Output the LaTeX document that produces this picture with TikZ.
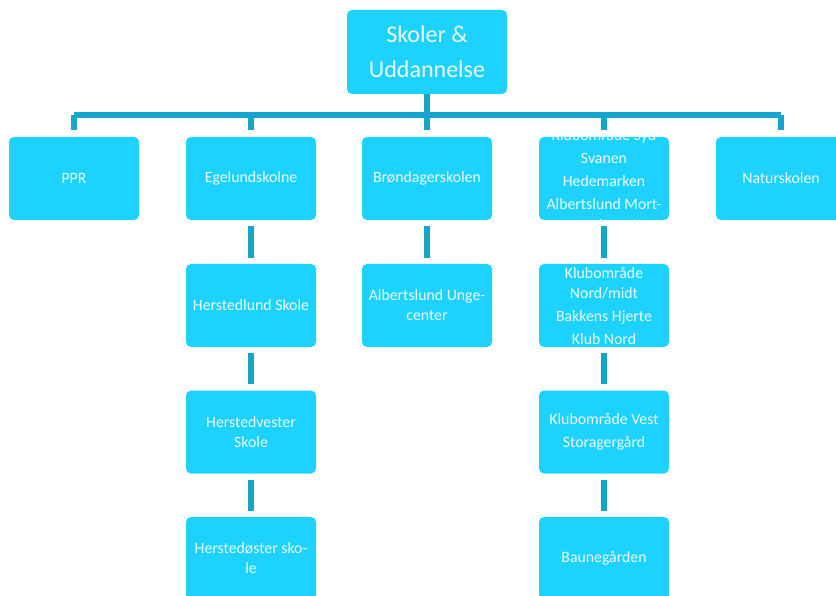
\documentclass[tikz,border=0pt]{standalone}
\usepackage{fontspec}
\setmainfont{Carlito}
\definecolor{boxfill}{RGB}{30,210,255}
\definecolor{linecol}{RGB}{22,165,205}
\definecolor{txtcol}{RGB}{236,250,255}
\tikzset{
  unit/.style={rectangle,rounded corners=5pt,fill=boxfill,minimum width=130pt,
    minimum height=83pt,text=txtcol,font=\fontsize{15.8}{20}\selectfont,align=center,inner sep=0pt},
  head/.style={unit,minimum width=160pt,minimum height=84pt,font=\fontsize{24}{35}\selectfont},
  unittext/.style={text=txtcol,font=\fontsize{15.8}{20}\selectfont,align=center,inner sep=0pt},
  link/.style={draw=linecol,line width=6pt},
}
\begin{document}
\begin{tikzpicture}[x=1pt,y=-1pt]
\clip (0,0) rectangle (836,596);

% top of the chart
\node[head] (skoler) at (427,52) {Skoler \&\\Uddannelse};

% first level
\node[unit] (ppr) at (74,178.5) {PPR};
\node[unit] (egelund) at (251,178.5) {Egelundskolne};
\node[unit] (broendager) at (427,178.5) {Brøndagerskolen};
\node[unit] (klubsyd) at (604,178.5) {};
\node[unit] (natur) at (781,178.5) {Naturskolen};

% second level
\node[unit] (herstedlund) at (251,305.5) {Herstedlund Skole};
\node[unit] (unge) at (427,305.5) {Albertslund Unge-\\center};
\node[unit] (klubnord) at (604,305.5) {Klubområde\\Nord/midt\\[3pt]Bakkens Hjerte\\[3pt]Klub Nord};

% third level
\node[unit] (herstedvester) at (251,432) {Herstedvester\\Skole};
\node[unit] (klubvest) at (604,432) {Klubområde Vest\\[3pt]Storagergård};

% fourth level
\node[unit] (herstedoester) at (251,558.5) {Herstedøster sko-\\le};
\node[unit] (baune) at (604,558.5) {Baunegården};

% text that runs over its box
\begin{scope}
\clip ([yshift=4pt]klubsyd.north west) rectangle ([yshift=-3pt]klubsyd.south east);
\node[unittext] at (604,180.5) {Klubområde Syd\\[3pt]Svanen\\[3pt]Hedemarken\\[3pt]Albertslund Mort-\\ersportscenter};
\end{scope}

% connectors
\coordinate (bar) at (427,115);
\draw[link] (skoler.south) -- (bar);
\draw[link] (ppr |- bar) -- (natur |- bar);
\foreach \n in {ppr,egelund,broendager,klubsyd,natur}
  \draw[link,shorten >=7pt] (\n |- bar) -- (\n.north);
\draw[link,shorten <=6pt,shorten >=6pt] (egelund) -- (herstedlund);
\draw[link,shorten <=6pt,shorten >=6pt] (herstedlund) -- (herstedvester);
\draw[link,shorten <=6pt,shorten >=6pt] (herstedvester) -- (herstedoester);
\draw[link,shorten <=6pt,shorten >=6pt] (broendager) -- (unge);
\draw[link,shorten <=6pt,shorten >=6pt] (klubsyd) -- (klubnord);
\draw[link,shorten <=6pt,shorten >=6pt] (klubnord) -- (klubvest);
\draw[link,shorten <=6pt,shorten >=6pt] (klubvest) -- (baune);
\end{tikzpicture}
\end{document}
